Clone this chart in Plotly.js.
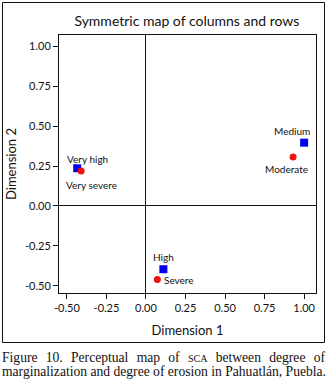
<!DOCTYPE html>
<html><head><meta charset="utf-8">
<script src="https://cdn.plot.ly/plotly-3.0.1.min.js"></script>
<style>
html,body{margin:0;padding:0;background:#fff;}
#wrap{position:relative;width:329px;height:389px;overflow:hidden;}
#chart{position:absolute;left:0;top:0;width:329px;height:389px;}
.cap{position:absolute;left:2px;width:323px;font-family:"Liberation Serif","DejaVu Serif",serif;font-size:13.6px;color:#111;text-align:justify;text-align-last:justify;white-space:nowrap;line-height:14px;}
.sc{font-variant:small-caps;}
</style></head>
<body><div id="wrap"><div id="chart"></div>
<div class="cap" style="top:351px;">Figure 10. Perceptual map of <span class="sc">sca</span> between degree of</div>
<div class="cap" style="top:365px;">marginalization and degree of erosion in Pahuatlán, Puebla.</div>
</div>
<script>
// Columns (marginalization) - blue squares
var colLabels = ["Very high", "High", "Medium"];
var colX = [-0.435, 0.11, 1.00];
var colY = [0.236, -0.396, 0.396];
// Rows (erosion) - red circles
var rowLabels = ["Very severe", "Severe", "Moderate"];
var rowX = [-0.41, 0.072, 0.93];
var rowY = [0.219, -0.46, 0.306];
var tickVals = [-0.5, -0.25, 0, 0.25, 0.5, 0.75, 1.0];
var tickText = ["-0.50", "-0.25", "0.00", "0.25", "0.50", "0.75", "1.00"];

var font = "Lato, 'Noto Sans', sans-serif";
var traces = [
  {x: colX, y: colY, mode: "markers", type: "scatter", name: "Columns",
   marker: {symbol: "square", size: 8, color: "#0000ee"}, cliponaxis: false},
  {x: rowX, y: rowY, mode: "markers", type: "scatter", name: "Rows",
   marker: {symbol: "circle", size: 7, color: "#ee1111"}, cliponaxis: false}
];
// label offsets (pixels) for each point
var colShift = [[10, 9], [0, 12], [-12, 12]];
var rowShift = [[10, -14], [22, -1], [-7, -12]];
var ann = [];
for (var i = 0; i < colLabels.length; i++) {
  ann.push({x: colX[i], y: colY[i], text: colLabels[i], showarrow: false,
    xshift: colShift[i][0], yshift: colShift[i][1], font: {family: font, size: 10, color: "#111"}});
}
for (var j = 0; j < rowLabels.length; j++) {
  ann.push({x: rowX[j], y: rowY[j], text: rowLabels[j], showarrow: false,
    xshift: rowShift[j][0], yshift: rowShift[j][1], font: {family: font, size: 10, color: "#111"}});
}
var layout = {
  width: 329, height: 389,
  margin: {l: 59, r: 13, t: 35, b: 96},
  paper_bgcolor: "#fff", plot_bgcolor: "#fff",
  showlegend: false,
  title: {text: "Symmetric map of columns and rows", x: 0.568, xanchor: "center", y: 0.947, yanchor: "middle",
          font: {family: font, size: 14, color: "#111"}},
  xaxis: {range: [-0.55, 1.075], tickvals: tickVals, ticktext: tickText, ticks: "outside", ticklen: 5,
          tickcolor: "#111", showgrid: false, zeroline: true, zerolinecolor: "#111", zerolinewidth: 1,
          showline: true, linecolor: "#111", linewidth: 1, mirror: true,
          tickfont: {family: font, size: 11, color: "#111"},
          title: {text: "Dimension 1", standoff: 12, font: {family: font, size: 13, color: "#111"}}},
  yaxis: {range: [-0.545, 1.07], tickvals: tickVals, ticktext: tickText, ticks: "outside", ticklen: 5,
          tickcolor: "#111", showgrid: false, zeroline: true, zerolinecolor: "#111", zerolinewidth: 1,
          showline: true, linecolor: "#111", linewidth: 1, mirror: true,
          tickfont: {family: font, size: 11, color: "#111"},
          title: {text: "Dimension 2", standoff: 5, font: {family: font, size: 13, color: "#111"}}},
  annotations: ann,
  shapes: [{type: "rect", xref: "paper", yref: "paper", x0: (2.5-59)/257, x1: (324.5-59)/257,
            y0: (293-342.5)/258, y1: (293-2.5)/258, line: {color: "#111", width: 1}, layer: "below"}]
};
Plotly.newPlot("chart", traces, layout, {displayModeBar: false, staticPlot: true});
</script></body></html>
